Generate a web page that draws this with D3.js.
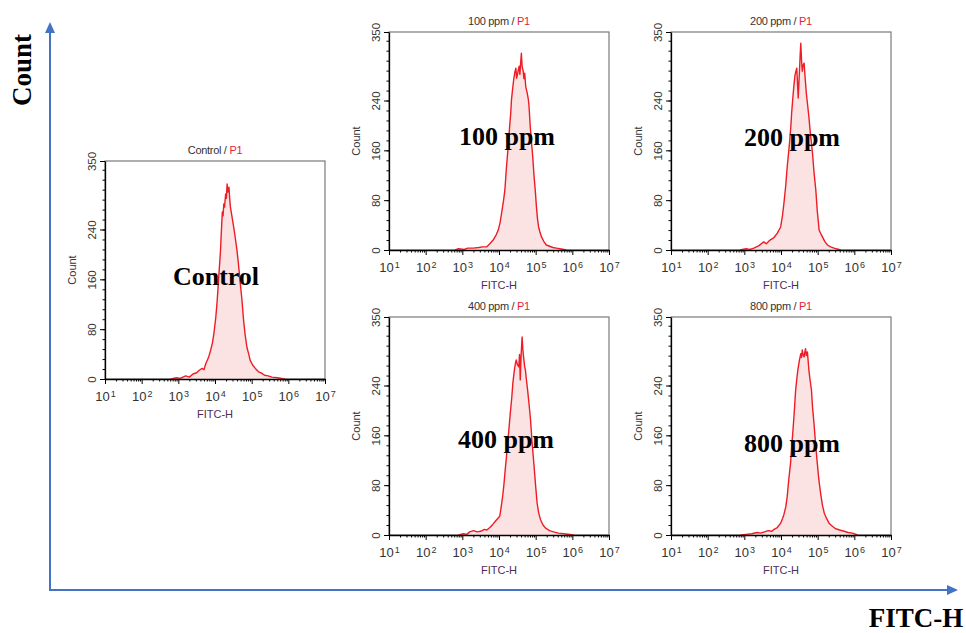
<!DOCTYPE html>
<html>
<head>
<meta charset="utf-8">
<script src="https://cdn.jsdelivr.net/npm/d3@7"></script>
<style>
  body { margin: 0; background: #fff; }
  svg { display: block; }
</style>
</head>
<body>
<svg width="966" height="633"></svg>
<script>
// histogram points: [log10(FITC-H), count]
var control = [[2.80,0],[2.95,2],[3.05,1],[3.2,5],[3.3,3],[3.4,8],[3.5,10],[3.57,14],[3.65,17],[3.7,15],[3.75,25],[3.82,34],[3.88,46],[3.93,58],[3.97,73],[4.02,98],[4.06,126],[4.1,162],[4.15,206],[4.18,245],[4.2,268],[4.22,262],[4.24,281],[4.26,276],[4.29,297],[4.31,290],[4.33,313],[4.35,300],[4.38,308],[4.4,290],[4.42,276],[4.46,262],[4.51,244],[4.55,228],[4.6,206],[4.63,190],[4.66,172],[4.69,153],[4.73,130],[4.78,94],[4.82,72],[4.87,51],[4.92,40],[4.96,30],[5.03,22],[5.1,17],[5.18,12],[5.28,9],[5.35,6],[5.45,5],[5.55,3],[5.7,2],[5.9,0]];

var ppm100 = [[2.80,0],[2.9,2],[3.05,1],[3.15,3],[3.3,3],[3.45,4],[3.55,5],[3.66,5],[3.75,10],[3.84,16],[3.92,24],[3.98,32],[4.03,44],[4.07,59],[4.12,78],[4.16,96],[4.2,130],[4.25,166],[4.29,198],[4.32,220],[4.34,241],[4.37,258],[4.4,273],[4.43,285],[4.46,292],[4.48,276],[4.5,281],[4.53,290],[4.55,295],[4.57,282],[4.59,300],[4.61,316],[4.63,295],[4.66,287],[4.68,275],[4.7,284],[4.73,262],[4.77,252],[4.8,242],[4.82,230],[4.85,200],[4.88,177],[4.92,150],[4.95,123],[4.99,95],[5.02,70],[5.05,50],[5.08,37],[5.12,28],[5.16,21],[5.22,14],[5.29,8],[5.38,6],[5.47,4],[5.56,3],[5.66,2],[5.84,0]];

var ppm200 = [[2.88,0],[3.05,2],[3.15,1],[3.26,3],[3.4,7],[3.53,13],[3.6,10],[3.7,16],[3.81,20],[3.9,27],[3.99,37],[4.04,55],[4.08,75],[4.13,104],[4.17,134],[4.21,158],[4.24,177],[4.27,200],[4.29,220],[4.32,242],[4.35,263],[4.38,280],[4.41,288],[4.43,292],[4.45,268],[4.47,244],[4.49,270],[4.51,295],[4.52,310],[4.54,332],[4.56,305],[4.58,287],[4.6,296],[4.63,300],[4.66,275],[4.69,252],[4.72,236],[4.76,214],[4.8,188],[4.83,172],[4.86,155],[4.9,125],[4.95,96],[4.99,62],[5.04,32],[5.08,27],[5.13,21],[5.2,13],[5.27,8],[5.35,5],[5.45,3],[5.63,0]];

var ppm400 = [[2.9,0],[3.03,2],[3.12,1],[3.2,5],[3.31,7],[3.4,5],[3.5,6],[3.6,9],[3.67,8],[3.75,12],[3.83,17],[3.9,22],[3.96,26],[4.02,30],[4.06,45],[4.11,67],[4.14,85],[4.17,105],[4.21,130],[4.26,163],[4.3,190],[4.35,222],[4.38,245],[4.42,265],[4.45,276],[4.47,281],[4.5,274],[4.54,270],[4.56,290],[4.58,249],[4.6,285],[4.63,318],[4.65,298],[4.67,286],[4.7,270],[4.72,265],[4.75,248],[4.78,233],[4.82,210],[4.86,185],[4.9,150],[4.95,115],[5.0,78],[5.04,51],[5.08,36],[5.13,25],[5.2,16],[5.27,11],[5.38,7],[5.49,5],[5.62,3],[5.77,2],[6.04,0]];

var ppm800 = [[2.9,0],[3.05,1],[3.2,2],[3.35,4],[3.44,3],[3.55,5],[3.65,7],[3.75,6],[3.81,9],[3.9,12],[3.99,19],[4.04,26],[4.08,33],[4.13,45],[4.17,62],[4.21,88],[4.26,115],[4.3,148],[4.34,179],[4.37,205],[4.4,233],[4.43,250],[4.46,265],[4.5,280],[4.54,291],[4.56,285],[4.58,297],[4.6,290],[4.63,286],[4.65,294],[4.67,299],[4.69,288],[4.72,294],[4.74,280],[4.76,265],[4.79,250],[4.83,233],[4.86,205],[4.9,179],[4.94,148],[4.99,115],[5.03,90],[5.08,67],[5.13,48],[5.18,35],[5.24,27],[5.31,19],[5.4,14],[5.49,10],[5.6,8],[5.72,6],[5.83,4],[5.95,3],[6.09,0]];

var sampleNames = ["Control", "100 ppm", "200 ppm", "400 ppm", "800 ppm"];
var sampleData = [control, ppm100, ppm200, ppm400, ppm800];
var yTicks = [0, 80, 160, 240, 350];
var xExponents = [1, 2, 3, 4, 5, 6, 7];

// panel placement (layout only)
var layout = [
  {left: 105, top: 161, lx: 111, ly: 124},
  {left: 389, top: 32,  lx: 118, ly: 113},
  {left: 671, top: 32,  lx: 121, ly: 114},
  {left: 389, top: 317, lx: 117, ly: 131},
  {left: 671, top: 317, lx: 121, ly: 135}
];
var pw = 220, ph = 218;
var sans = "'Liberation Sans', Arial, sans-serif",
    serif = "'Liberation Serif', 'Times New Roman', serif";

var svg = d3.select("svg");

var x = d3.scaleLog().domain([10, 1e7]).range([0, pw]),
    y = d3.scaleLinear().domain([0, 350]).range([ph, 0]);

var minorX = [];
xExponents.slice(0, -1).forEach(function(e) {
  for (var k = 2; k <= 9; k++) minorX.push(k * Math.pow(10, e));
});
var minorY = d3.range(16, 350, 16);

var area = d3.area()
    .x(function(d) { return x(Math.pow(10, d[0])); })
    .y0(ph)
    .y1(function(d) { return y(d[1]); });
var line = d3.line()
    .x(function(d) { return x(Math.pow(10, d[0])); })
    .y(function(d) { return y(d[1]); });

sampleNames.forEach(function(name, i) {
  var p = layout[i];
  var g = svg.append("g").attr("transform", "translate(" + p.left + "," + p.top + ")");

  // box
  g.append("rect")
      .attr("width", pw).attr("height", ph)
      .attr("fill", "#fff").attr("stroke", "#7a7a7a").attr("stroke-width", 1.2);

  g.append("path").datum(sampleData[i])
      .attr("d", area)
      .attr("fill", "#fbe3e4");
  g.append("path").datum(sampleData[i])
      .attr("d", line)
      .attr("fill", "none")
      .attr("stroke", "#ee1c25")
      .attr("stroke-width", 1.4)
      .attr("stroke-linejoin", "round");

  // minor ticks
  g.append("g")
      .attr("transform", "translate(0," + ph + ")")
      .call(d3.axisBottom(x).tickValues(minorX).tickSize(2.5).tickFormat(""))
      .call(function(a) { a.select(".domain").remove(); });
  g.append("g")
      .call(d3.axisLeft(y).tickValues(minorY).tickSize(2.5).tickFormat(""))
      .call(function(a) { a.select(".domain").remove(); });

  // x axis
  var xa = g.append("g")
      .attr("transform", "translate(0," + ph + ")")
      .call(d3.axisBottom(x).tickValues(xExponents.map(function(e) { return Math.pow(10, e); }))
        .tickSize(5).tickSizeOuter(0));
  xa.select(".domain").attr("stroke-width", 1.3);
  xa.selectAll("text").each(function(d) {
    var t = d3.select(this);
    t.text("10").attr("y", 22).attr("dy", 0)
      .attr("font-size", 13).attr("font-family", sans).attr("fill", "#333");
    t.append("tspan").attr("dy", "-0.45em").attr("dx", 1).attr("font-size", 9)
      .text(Math.round(Math.log10(d)));
  });

  // y axis
  var ya = g.append("g")
      .call(d3.axisLeft(y).tickValues(yTicks).tickSize(5).tickSizeOuter(0));
  ya.select(".domain").attr("stroke-width", 1.3);
  ya.selectAll("text")
      .attr("transform", "rotate(-90)")
      .attr("x", 0).attr("y", -9).attr("dy", 0)
      .attr("text-anchor", "middle")
      .attr("font-size", 11.5).attr("font-family", sans).attr("fill", "#333");

  // axis titles
  g.append("text")
      .attr("transform", "translate(-29," + (ph / 2) + ") rotate(-90)")
      .attr("text-anchor", "middle")
      .attr("font-family", sans).attr("font-size", 11).attr("fill", "#333")
      .text("Count");
  g.append("text")
      .attr("x", pw / 2).attr("y", ph + 39)
      .attr("text-anchor", "middle")
      .attr("font-family", sans).attr("font-size", 11).attr("fill", "#4a2f5a")
      .text("FITC-H");

  var title = g.append("text")
      .attr("x", pw / 2).attr("y", -7)
      .attr("text-anchor", "middle")
      .attr("font-family", sans).attr("font-size", 11).attr("fill", "#333")
      .attr("letter-spacing", "-0.3");
  title.append("tspan").text(name + " / ");
  title.append("tspan").attr("fill", "#e8203a").text("P1");

  // sample label
  g.append("text")
      .attr("x", p.lx).attr("y", p.ly)
      .attr("text-anchor", "middle")
      .attr("font-family", serif).attr("font-weight", "bold").attr("font-size", 26)
      .attr("fill", "#000")
      .text(name);
});

// big outer axes
var blue = "#4472c4";
svg.append("line").attr("x1", 50).attr("y1", 590).attr("x2", 50).attr("y2", 32)
    .attr("stroke", blue).attr("stroke-width", 2);
svg.append("path").attr("d", "M50,22 L45,33 L55,33 Z").attr("fill", blue);
svg.append("line").attr("x1", 49).attr("y1", 590).attr("x2", 948).attr("y2", 590)
    .attr("stroke", blue).attr("stroke-width", 2);
svg.append("path").attr("d", "M958,590 L947,585 L947,595 Z").attr("fill", blue);

svg.append("text")
    .attr("transform", "translate(31,70) rotate(-90)")
    .attr("text-anchor", "middle")
    .attr("font-family", serif).attr("font-weight", "bold").attr("font-size", 27)
    .text("Count");
svg.append("text")
    .attr("x", 916).attr("y", 627)
    .attr("text-anchor", "middle")
    .attr("font-family", serif).attr("font-weight", "bold").attr("font-size", 27)
    .text("FITC-H");
</script>
</body>
</html>
